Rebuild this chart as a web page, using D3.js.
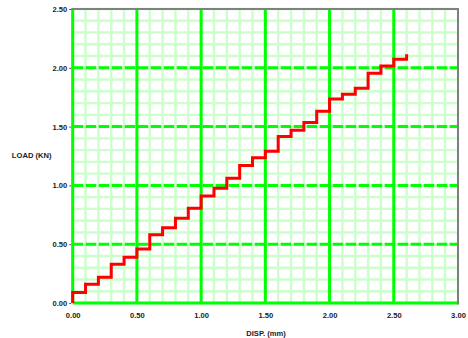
<!DOCTYPE html>
<html>
<head>
<style>
  body { margin: 0; background: #fff; }
  text { font-family: "Liberation Sans", Arial, sans-serif; font-weight: bold; fill: #222; }
</style>
</head>
<body>
<script src="https://d3js.org/d3.v7.min.js"></script>
<script>
const width = 468, height = 338;
const margin = {left: 72.7, right: 10, top: 9, bottom: 35};

// readings
const disp = [0, 0.1, 0.2, 0.3, 0.4, 0.5, 0.6, 0.7, 0.8, 0.9, 1.0, 1.1, 1.2, 1.3, 1.4, 1.5, 1.6, 1.7, 1.8, 1.9, 2.0, 2.1, 2.2, 2.3, 2.4, 2.5, 2.6, 2.6];
const load = [0, 0.09, 0.16, 0.22, 0.33, 0.39, 0.46, 0.58, 0.64, 0.72, 0.805, 0.91, 0.975, 1.06, 1.17, 1.235, 1.29, 1.415, 1.47, 1.535, 1.63, 1.735, 1.775, 1.826, 1.953, 2.015, 2.072, 2.115];

const xTicks = [0, 0.5, 1.0, 1.5, 2.0, 2.5, 3.0];
const yTicks = [0, 0.5, 1.0, 1.5, 2.0, 2.5];
const minorStep = 0.1;

const x = d3.scaleLinear().domain([0, 3]).range([margin.left, 458]);
const y = d3.scaleLinear().domain([0, 2.5]).range([303, margin.top]);

const svg = d3.select("body").append("svg").attr("width", width).attr("height", height);

// minor grid
const xMinor = d3.range(0, 3.0001, minorStep);
const yMinor = d3.range(0, 2.5001, minorStep);
svg.append("g").selectAll("line").data(xMinor).join("line")
  .attr("x1", d => x(d)).attr("x2", d => x(d)).attr("y1", y(0)).attr("y2", y(2.5))
  .attr("stroke", "#ccffcc").attr("stroke-width", 2.4);
svg.append("g").selectAll("line").data(yMinor).join("line")
  .attr("x1", x(0)).attr("x2", x(3)).attr("y1", d => y(d)).attr("y2", d => y(d))
  .attr("stroke", "#ccffcc").attr("stroke-width", 2.4);

// major grid: dashed horizontals, solid verticals
svg.append("g").selectAll("line").data(yTicks.filter(d => d > 0 && d < 2.5)).join("line")
  .attr("x1", x(0)).attr("x2", x(3)).attr("y1", d => y(d)).attr("y2", d => y(d))
  .attr("stroke", "#00ff00").attr("stroke-width", 3).attr("stroke-dasharray", "10.5,2.5");
svg.append("g").selectAll("line").data(xTicks.filter(d => d < 3)).join("line")
  .attr("x1", d => x(d)).attr("x2", d => x(d)).attr("y1", y(0)).attr("y2", y(2.5))
  .attr("stroke", "#00ff00").attr("stroke-width", 3);

// bottom axis line
svg.append("line").attr("x1", x(0)).attr("x2", x(3)).attr("y1", y(0)).attr("y2", y(0))
  .attr("stroke", "#00ff00").attr("stroke-width", 3);

// gray plot border top / right
svg.append("path")
  .attr("d", `M${x(0) - 1.5},${y(2.5)}H${x(3)}V${y(0) + 1.5}`)
  .attr("fill", "none").attr("stroke", "#808080").attr("stroke-width", 2);

// axes labels via d3 axes
const yAxis = svg.append("g").attr("transform", `translate(${x(0) - 1.5},0)`)
  .call(d3.axisLeft(y).tickValues(yTicks).tickFormat(d3.format(".2f")).tickSize(2).tickPadding(2));
const xAxis = svg.append("g").attr("transform", `translate(0,${y(0) + 8})`)
  .call(d3.axisBottom(x).tickValues(xTicks).tickFormat(d3.format(".2f")).tickSize(0).tickPadding(2));
[yAxis, xAxis].forEach(g => {
  g.select(".domain").remove();
  g.selectAll("text").attr("font-family", "Liberation Sans, Arial, sans-serif")
    .attr("font-weight", "bold").attr("font-size", 7.6).attr("fill", "#222");
});
yAxis.selectAll("line").attr("stroke", "#555");

// titles
svg.append("text").attr("x", 31.7).attr("y", 158).attr("text-anchor", "middle")
  .attr("font-size", 7.6).text("LOAD (KN)");
svg.append("text").attr("x", 266).attr("y", 336).attr("text-anchor", "middle")
  .attr("font-size", 7.6).text("DISP. (mm)");

// load-displacement step line
const line = d3.line().x((d, i) => x(disp[i])).y(d => y(d)).curve(d3.curveStepBefore);
svg.append("path").datum(load).attr("d", line)
  .attr("fill", "none").attr("stroke", "#ff0000").attr("stroke-width", 3);
</script>
</body>
</html>
